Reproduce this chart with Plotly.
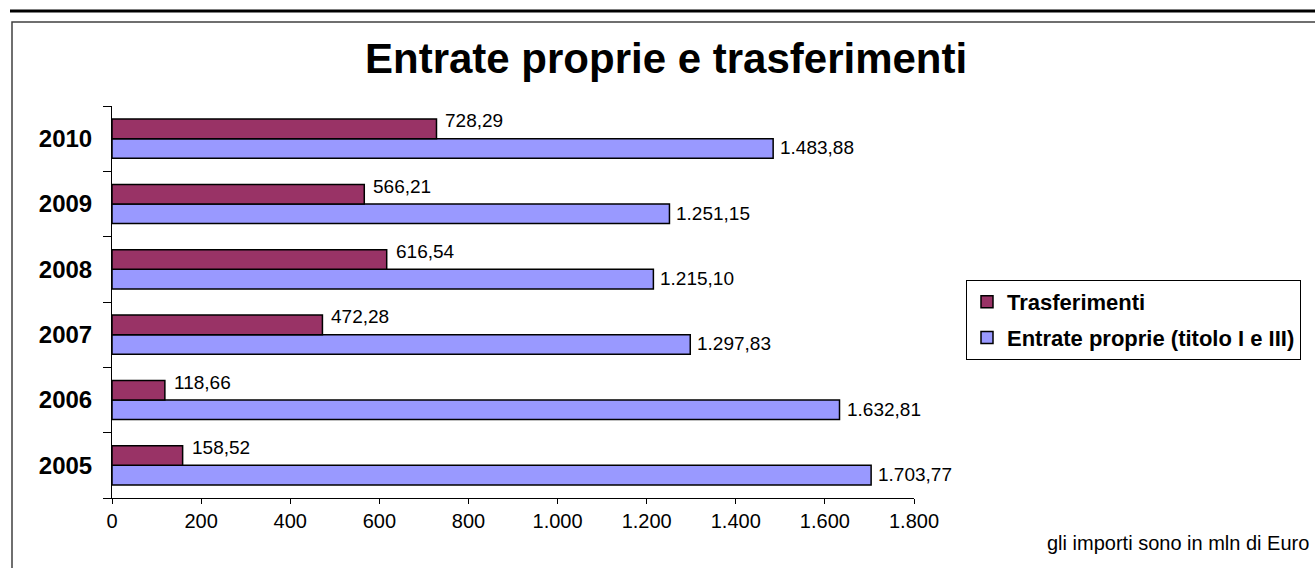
import plotly.graph_objects as go

years = ["2005", "2006", "2007", "2008", "2009", "2010"]
trasferimenti = [158.52, 118.66, 472.28, 616.54, 566.21, 728.29]
entrate_proprie = [1703.77, 1632.81, 1297.83, 1215.10, 1251.15, 1483.88]
x_ticks = [0, 200, 400, 600, 800, 1000, 1200, 1400, 1600, 1800]
x_ticktext = ["0", "200", "400", "600", "800", "1.000", "1.200", "1.400", "1.600", "1.800"]

title_text = "Entrate proprie e trasferimenti"
name_tr = "Trasferimenti"
name_ep = "Entrate proprie (titolo I e III)"
note_text = "gli importi sono in mln di Euro"

COL_TR = "#993366"
COL_EP = "#9999FF"
FONT = "Arial, Liberation Sans, sans-serif"

W, H = 1315, 568
L, R, T, B = 112, 914, 106, 498


def px2x(px):
    return (px - L) / (R - L)


def py2y(py):
    return (B - py) / (B - T)


def it_fmt(v):
    s = f"{v:,.2f}"
    return s.replace(",", "X").replace(".", ",").replace("X", ".")


fig = go.Figure()
fig.add_trace(go.Bar(
    y=years, x=entrate_proprie, orientation="h", name=name_ep,
    marker=dict(color=COL_EP, line=dict(color="black", width=1.5)),
    legendgroup="ep", legendrank=2, hoverinfo="skip",
))
fig.add_trace(go.Bar(
    y=years, x=trasferimenti, orientation="h", name=name_tr,
    marker=dict(color=COL_TR, line=dict(color="black", width=1.5)),
    legendgroup="tr", legendrank=1, hoverinfo="skip",
))

annotations = []
for i, v in enumerate(trasferimenti):
    annotations.append(dict(x=v, y=i, xref="x", yref="y", text=it_fmt(v),
                            showarrow=False, xanchor="left", yanchor="middle",
                            xshift=7, yshift=18,
                            font=dict(family=FONT, size=19, color="black")))
for i, v in enumerate(entrate_proprie):
    annotations.append(dict(x=v, y=i, xref="x", yref="y", text=it_fmt(v),
                            showarrow=False, xanchor="left", yanchor="middle",
                            xshift=5, yshift=-9,
                            font=dict(family=FONT, size=19, color="black")))

annotations.append(dict(x=px2x(666), y=py2y(58), xref="paper", yref="paper",
                        text="<b>" + title_text + "</b>", showarrow=False,
                        xanchor="center", yanchor="middle",
                        font=dict(family=FONT, size=42, color="black")))
annotations.append(dict(x=px2x(1311), y=py2y(543), xref="paper", yref="paper",
                        text=note_text, showarrow=False,
                        xanchor="right", yanchor="middle",
                        font=dict(family=FONT, size=20, color="black")))

shapes = [
    dict(type="line", xref="paper", yref="paper",
         x0=px2x(10), x1=px2x(1320), y0=py2y(11), y1=py2y(11),
         line=dict(color="black", width=3)),
    dict(type="rect", xref="paper", yref="paper",
         x0=px2x(12), x1=px2x(1330), y0=py2y(22), y1=py2y(600),
         line=dict(color="#404040", width=1.5)),
]

fig.update_layout(
    width=W, height=H,
    margin=dict(l=L, r=W - R, t=T, b=H - B, pad=0),
    paper_bgcolor="white", plot_bgcolor="white",
    barmode="group", bargap=0.4, bargroupgap=0,
    hovermode=False,
    showlegend=True,
    legend=dict(
        x=px2x(966), y=py2y(280), xanchor="left", yanchor="top",
        traceorder="grouped", tracegroupgap=4,
        bordercolor="black", borderwidth=1, bgcolor="white",
        font=dict(family=FONT, size=22, color="black", weight="bold"),
        itemwidth=30,
    ),
    xaxis=dict(
        range=[0, 1800], tickvals=x_ticks, ticktext=x_ticktext,
        showgrid=False, zeroline=False, showline=True, linecolor="black", linewidth=1,
        ticks="outside", ticklen=5, tickcolor="black", tickwidth=1,
        tickfont=dict(family=FONT, size=20, color="black"),
    ),
    yaxis=dict(
        type="category", categoryorder="array", categoryarray=years,
        range=[-0.5, 5.5],
        showgrid=False, zeroline=False, showline=True, linecolor="black", linewidth=1,
        ticks="outside", ticklen=8, tickcolor="black", tickwidth=1,
        tickson="boundaries",
        tickfont=dict(family=FONT, size=24, color="black", weight="bold"),
        ticklabelstandoff=14,
    ),
    annotations=annotations,
    shapes=shapes,
)

fig.write_html("out.html", config={"displayModeBar": False},
               post_script="document.body.style.margin='0';document.body.style.padding='0';")
